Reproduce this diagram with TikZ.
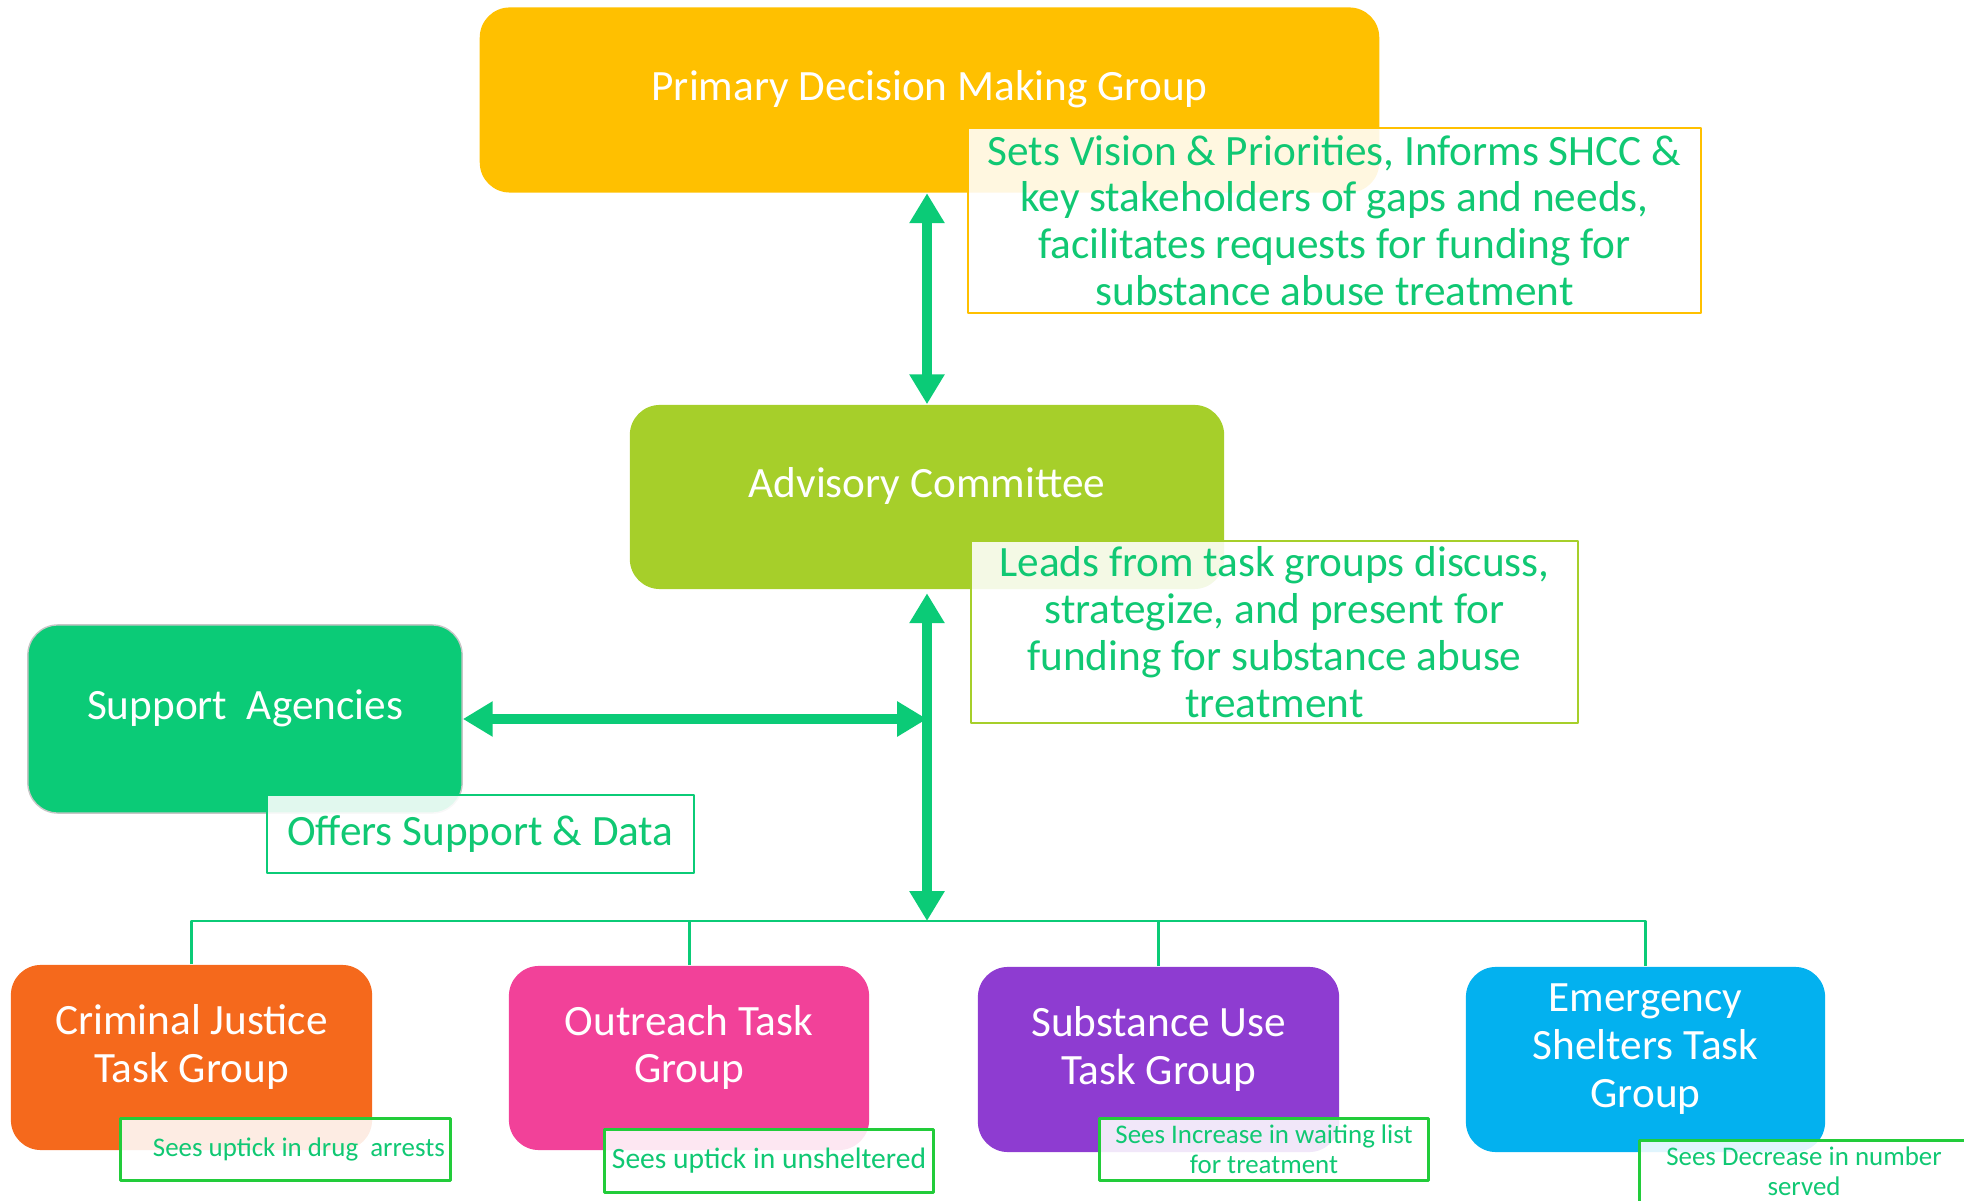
\documentclass[tikz,border=0pt]{standalone}
\usepackage{fontspec}
\setmainfont{Carlito}
\usetikzlibrary{arrows.meta}
\definecolor{primc}{HTML}{FFC000}
\definecolor{advc}{HTML}{A6CF2A}
\definecolor{suppc}{HTML}{0BCB77}
\definecolor{crimc}{HTML}{F5691C}
\definecolor{outc}{HTML}{F24199}
\definecolor{subc}{HTML}{8E3CD1}
\definecolor{emerc}{HTML}{03B1EF}
\definecolor{flowc}{HTML}{0BCB77}
\definecolor{notec}{HTML}{10C873}
\definecolor{smallc}{HTML}{22CC3A}
\begin{document}
\begin{tikzpicture}[x=0.01cm, y=-0.01cm, >={Triangle[length=8.5pt,width=9.5pt]}, line join=round,
	box/.style={rounded corners=0.3cm, inner sep=0pt},
	title/.style={text=white, font=\fontsize{12.3}{13.6}\selectfont, align=center},
	note/.style={draw, fill=white, fill opacity=0.88, text opacity=1, text=notec, align=center, inner sep=1.5pt},
	bignote/.style={note, line width=0.7pt, font=\fontsize{12.3}{13.3}\selectfont},
	smallnote/.style={note, draw=smallc, line width=0.85pt, minimum width=3.28cm, minimum height=0.61cm, font=\fontsize{7.65}{8.5}\selectfont},
	flow/.style={draw=flowc, line width=3pt, <->},
	bus/.style={draw=flowc, line width=0.85pt}]
	\useasboundingbox (0,0) rectangle (1964,1201);
	% groups
	\node[box, fill=primc, minimum width=8.99cm, minimum height=1.85cm] (prim) at (929.5,100) {};
	\node[title] (prim-t) at ([yshift=3pt]prim.center) {Primary Decision Making Group};
	\node[box, fill=advc, minimum width=5.94cm, minimum height=1.84cm] (adv) at (927,497) {};
	\node[title] (adv-t) at ([yshift=3pt]adv.center) {Advisory Committee};
	\node[box, fill=suppc, draw=gray!45, line width=0.4pt, minimum width=4.34cm, minimum height=1.88cm] (supp) at (245,719) {};
	\node[title] (supp-t) at ([yshift=3pt]supp.center) {Support\ \ Agencies};
	\node[box, fill=crimc, minimum width=3.61cm, minimum height=1.85cm] (crim) at (191.5,1057.5) {};
	\node[title] (crim-t) at ([yshift=3pt]crim.center) {Criminal Justice\\Task Group};
	\node[box, fill=outc, minimum width=3.60cm, minimum height=1.84cm] (out) at (689,1058) {};
	\node[title] (out-t) at ([yshift=3pt]out.center) {Outreach Task\\Group};
	\node[box, fill=subc, minimum width=3.61cm, minimum height=1.85cm] (sub) at (1158.5,1059.5) {};
	\node[title] (sub-t) at ([yshift=3pt]sub.center) {Substance Use\\Task Group};
	\node[box, fill=emerc, minimum width=3.59cm, minimum height=1.85cm] (emer) at (1645.5,1059.5) {};
	\node[title] (emer-t) at ([yshift=3pt]emer.center) {Emergency\\Shelters Task\\Group};
	% connectors
	\coordinate (hub) at (927,921);
	\coordinate (jn) at (adv.south |- supp.east);
	\draw[flow] (prim.south -| adv.north) -- (adv.north);
	\draw[flow, shorten <=1pt] (adv.south) -- (hub);
	\draw[flow] (supp.east) -- (jn);
	\draw[bus] (crim.north) |- (hub) -| (emer.north);
	\draw[bus] (out.north) -- (out.north |- hub);
	\draw[bus] (sub.north) -- (sub.north |- hub);
	% notes
	\node[bignote, draw=primc, minimum width=7.33cm, minimum height=1.85cm] (prim-n) at (1334.5,220.5) {Sets Vision \& Priorities, Informs SHCC \&\\key stakeholders of gaps and needs,\\facilitates requests for funding for\\substance abuse treatment};
	\node[bignote, draw=advc, minimum width=6.07cm, minimum height=1.82cm] (adv-n) at (1274.5,632) {Leads from task groups discuss,\\strategize, and present for\\funding for substance abuse\\treatment};
	\node[bignote, draw=flowc, minimum width=4.27cm, minimum height=0.78cm] (supp-n) at (480.5,834) {Offers Support \& Data};
	\node[smallnote, text width=3.29cm-3pt, align=flush right] (crim-n) at (285.5,1149.5) {Sees uptick in drug\ \ arrests};
	\node[smallnote, minimum height=0.62cm, font=\fontsize{8.4}{9.4}\selectfont] (out-n) at (769,1161) {Sees uptick in unsheltered};
	\node[smallnote] (sub-n) at (1264,1149.5) {Sees Increase in waiting list\\for treatment};
	\node[smallnote] (emer-n) at (1804,1171.5) {Sees Decrease in number\\served};
\end{tikzpicture}
\end{document}
